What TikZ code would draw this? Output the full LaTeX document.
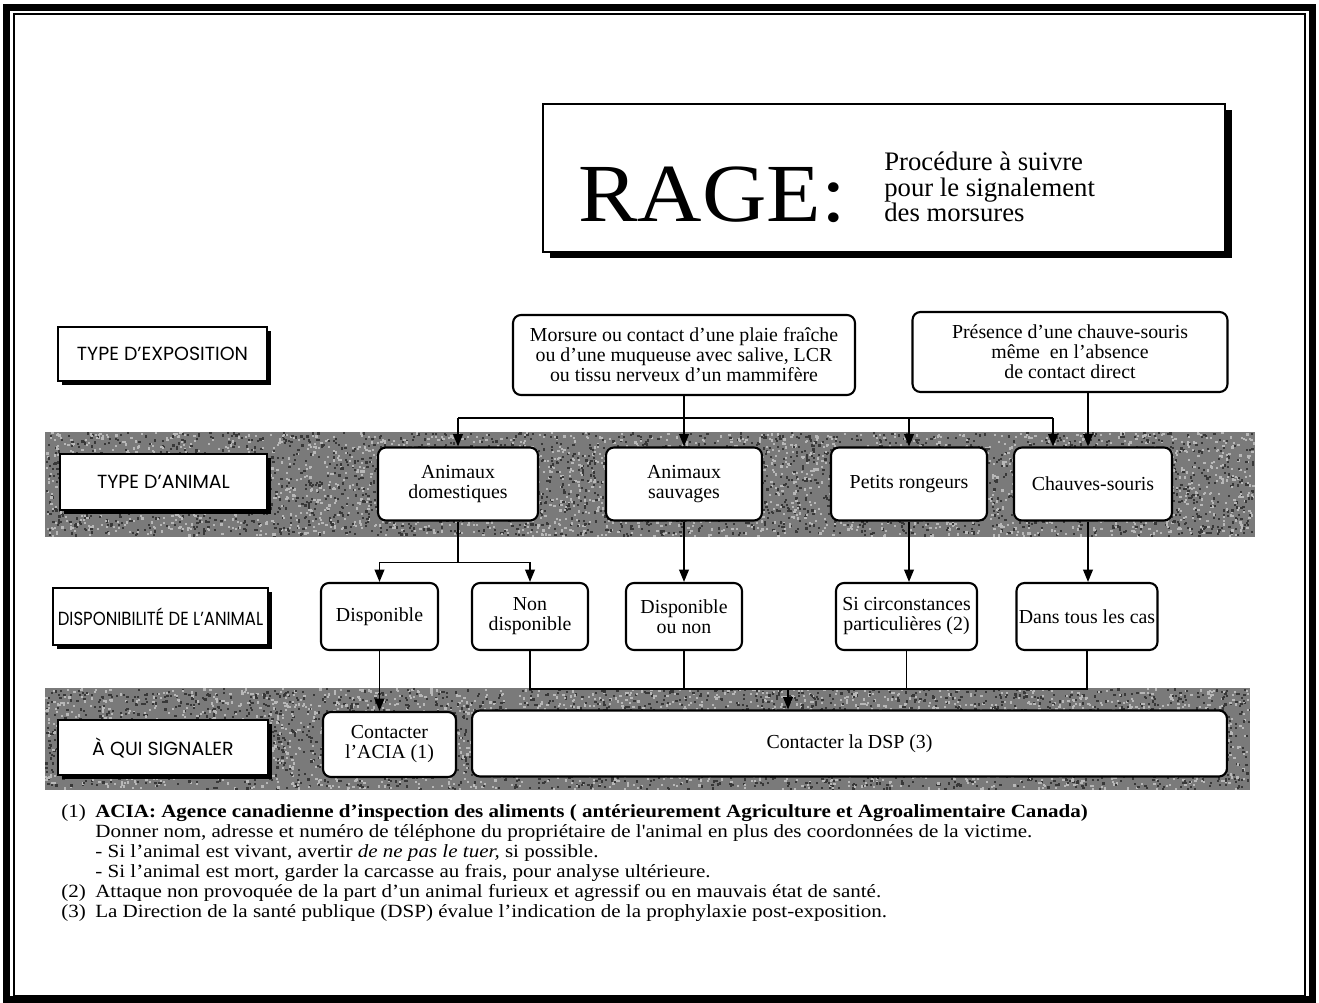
\documentclass[tikz,border=0pt]{standalone}
\usepackage{fontspec}
\setmainfont{Liberation Serif}
\newfontfamily\notefont[FakeStretch=1.13]{Liberation Serif}
\newfontfamily\rowfont{Poppins}
\newfontfamily\rowfontn[FakeStretch=0.87]{Poppins}
\usetikzlibrary{arrows.meta,shadows}

\tikzset{
  rowlab/.style={draw,line width=1.1pt,fill=white,inner sep=0pt,
    font=\rowfont\fontsize{10.8}{12}\selectfont,
    drop shadow={shadow xshift=0.08cm,shadow yshift=-0.08cm,fill=black,opacity=1}},
  rbox/.style={draw,line width=1.2pt,fill=white,rounded corners=4.5pt,inner sep=0pt,
    align=center,font=\fontsize{11.3}{11.4}\selectfont},
  fnote/.style={anchor=base west,inner sep=0pt,font=\notefont\fontsize{10.6}{12}\selectfont},
  link/.style={line width=0.9pt},
  arr/.style={line width=0.9pt,-{Triangle[length=7pt,width=5.5pt]}},
}

\begin{document}
\begin{tikzpicture}[x=0.02cm,y=-0.02cm]
\useasboundingbox (0,0) rectangle (1319,1003);
%frame
\draw[line width=4pt] (6.5,7.5) rectangle (1312.5,999.5);
\draw[line width=1.1pt] (14,14) rectangle (1305,996);
%textured bands
\fill[black!52] (45,432) rectangle (1255,537);
\fill[black!52] (45,688) rectangle (1250,790);
\pgfmathsetseed{11}
\foreach \i in {1,...,2800}{
  \fill[black!28] ({45+1208*rnd},{432+103*rnd}) rectangle ++(2.2,2.2);
  \fill[black!78] ({45+1208*rnd},{432+103*rnd}) rectangle ++(2.2,2.2);
  \fill[black!28] ({45+1203*rnd},{688+100*rnd}) rectangle ++(2.2,2.2);
  \fill[black!78] ({45+1203*rnd},{688+100*rnd}) rectangle ++(2.2,2.2);
}
%title
\node[draw,line width=1.1pt,fill=white,minimum width=13.64cm,minimum height=2.96cm,
  drop shadow={shadow xshift=0.14cm,shadow yshift=-0.12cm,fill=black,opacity=1}] (title) at (884,178) {};
\node[anchor=base west,inner sep=0pt,font=\fontsize{47}{47}\selectfont\addfontfeature{FakeStretch=1.08}] (rage) at (578,222) {RAGE:};
\node[anchor=west,inner sep=0pt,align=left,font=\fontsize{15.2}{14.6}\selectfont] (sub) at (884,187)
  {Procédure à suivre\\pour le signalement\\des morsures};
%row labels
\node[rowlab,minimum width=4.18cm,minimum height=1.08cm] (lexpo) at (162.5,354) {TYPE D’EXPOSITION};
\node[rowlab,minimum width=4.14cm,minimum height=1.12cm] (lanim) at (163.5,482) {TYPE D’ANIMAL};
\node[rowlab,minimum width=4.3cm,minimum height=1.14cm,font=\rowfontn\fontsize{10.8}{12}\selectfont] (ldispo) at (160.5,616.5) {DISPONIBILITÉ DE L’ANIMAL};
\node[rowlab,minimum width=4.2cm,minimum height=1.1cm] (lqui) at (163,747.5) {À QUI SIGNALER};
%exposure
\node[rbox,minimum width=6.84cm,minimum height=1.6cm] (mors) at (684,355)
  {Morsure ou contact d’une plaie fraîche\\ou d’une muqueuse avec salive, LCR\\ou tissu nerveux d’un mammifère};
\node[rbox,minimum width=6.3cm,minimum height=1.6cm] (pres) at (1070,352)
  {Présence d’une chauve-souris\\même\ \ en l’absence\\de contact direct};
%animals
\node[rbox,minimum width=3.2cm,minimum height=1.46cm] (adom) at (458,484) {Animaux\\domestiques};
\node[rbox,minimum width=3.12cm,minimum height=1.46cm] (asauv) at (684,484) {Animaux\\sauvages};
\node[rbox,minimum width=3.12cm,minimum height=1.46cm] (rong) at (909,484) {Petits rongeurs};
\node[rbox,minimum width=3.16cm,minimum height=1.46cm] (chauv) at (1093,484) {Chauves-souris};
%availability
\node[rbox,minimum width=2.34cm,minimum height=1.34cm] (dispo) at (379.5,616.5) {Disponible};
\node[rbox,minimum width=2.32cm,minimum height=1.34cm] (nondispo) at (530,616.5) {Non\\disponible};
\node[rbox,minimum width=2.32cm,minimum height=1.34cm] (dispoounon) at (684,616.5) {Disponible\\ou non};
\node[rbox,minimum width=2.82cm,minimum height=1.34cm] (circ) at (906.5,616.5) {Si circonstances\\particulières (2)};
\node[rbox,minimum width=2.82cm,minimum height=1.34cm] (tous) at (1087,616.5) {Dans tous les cas};
%who to call
\node[rbox,minimum width=2.66cm,minimum height=1.3cm] (acia) at (389.5,744.5) {Contacter\\l’ACIA (1)};
\node[rbox,minimum width=15.1cm,minimum height=1.32cm] (dsp) at (849.5,743.5) {Contacter la DSP (3)};
%links
\coordinate (jt) at (458,418);
\coordinate (cw) at ([xshift=-0.8cm]chauv.north);
\draw[arr] (mors.south) -- (mors.south |- asauv.north);
\draw[link] (jt) -- (jt -| cw);
\draw[arr] (jt) -- (adom.north);
\draw[arr] (jt -| rong.north) -- (rong.north);
\draw[arr] (jt -| cw) -- (cw);
\draw[arr] (pres.south -| 1088,0) -- (1088,0 |- chauv.north);
\draw[link] (adom.south) -- ++(0,41) coordinate (js);
\draw[arr] (js) -| (dispo.north);
\draw[arr] (js) -| (nondispo.north);
\draw[arr] (asauv.south) -- (asauv.south |- dispoounon.north);
\draw[arr] (rong.south) -- (rong.south |- circ.north);
\draw[arr] (1088,0 |- chauv.south) -- (1088,0 |- tous.north);
\draw[arr] (dispo.south) -- (dispo.south |- acia.north);
\draw[link] (nondispo.south) -- ++(0,38) coordinate (jb) -- (jb -| tous.south) -- (tous.south);
\draw[link] (dispoounon.south) -- (dispoounon.south |- jb);
\draw[link] (circ.south) -- (circ.south |- jb);
\coordinate (dm) at (788,688);
\draw[arr] (dm) -- (dm |- dsp.north);
%notes
\node[fnote] (fn1) at (61,817) {\makebox[19.3pt][l]{(1)}\textbf{ACIA: Agence canadienne d’inspection des aliments ( antérieurement Agriculture et Agroalimentaire Canada)}};
\node[fnote] (fn2) at (95,837) {Donner nom, adresse et numéro de téléphone du propriétaire de l'animal en plus des coordonnées de la victime.};
\node[fnote] (fn3) at (95,857) {- Si l’animal est vivant, avertir \textit{de ne pas le tuer,} si possible.};
\node[fnote] (fn4) at (95,877) {- Si l’animal est mort, garder la carcasse au frais, pour analyse ultérieure.};
\node[fnote] (fn5) at (61,897) {\makebox[19.3pt][l]{(2)}Attaque non provoquée de la part d’un animal furieux et agressif ou en mauvais état de santé.};
\node[fnote] (fn6) at (61,917) {\makebox[19.3pt][l]{(3)}La Direction de la santé publique (DSP) évalue l’indication de la prophylaxie post-exposition.};
\end{tikzpicture}
\end{document}
